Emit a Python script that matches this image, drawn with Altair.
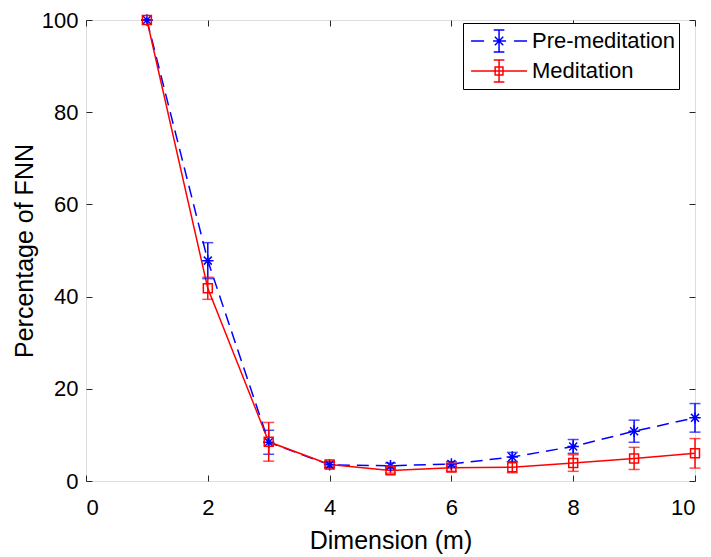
import altair as alt
import pandas as pd

dims = [1, 2, 3, 4, 5, 6, 7, 8, 9, 10]
series_names = ["Pre-meditation", "Meditation"]
pre_vals = [100, 47.8, 8.4, 3.5, 3.3, 3.7, 5.2, 7.5, 10.8, 13.7]
pre_err = [0, 3.9, 2.6, 0.6, 0.6, 0.5, 1.0, 1.5, 2.4, 3.1]
med_vals = [100, 41.8, 8.5, 3.6, 2.3, 2.9, 3.0, 3.9, 4.9, 6.0]
med_err = [0, 2.4, 4.2, 0.6, 0.6, 0.8, 1.2, 1.8, 2.4, 3.2]
x_ticks = [0, 2, 4, 6, 8, 10]
y_ticks = [0, 20, 40, 60, 80, 100]

rows = []
for name, vals, errs in [(series_names[0], pre_vals, pre_err), (series_names[1], med_vals, med_err)]:
    for d, v, e in zip(dims, vals, errs):
        rows.append({"dim": d, "series": name, "value": v, "lo": v - e, "hi": v + e})
df = pd.DataFrame(rows)

BLUE = "#0000ff"
RED = "#ff0000"
FONT = "Liberation Sans"
AX = "#262626"

xs = alt.Scale(domain=[0, 10], nice=False)
ys = alt.Scale(domain=[0, 100], nice=False)

x_main = alt.Axis(orient="bottom", values=x_ticks, tickSize=6, offset=-6, domain=False, grid=False,
                  tickColor=AX, labelColor="#000", labelFont=FONT, labelFontSize=22, labelPadding=16,
                  title="Dimension (m)", titleFont=FONT, titleFontSize=25, titleFontWeight="normal",
                  titleColor="#000", titlePadding=10)
y_main = alt.Axis(orient="left", values=y_ticks, tickSize=6, offset=-6, domain=False, grid=False,
                  tickColor=AX, labelColor="#000", labelFont=FONT, labelFontSize=22, labelPadding=8,
                  title="Percentage of FNN", titleFont=FONT, titleFontSize=25, titleFontWeight="normal",
                  titleColor="#000", titlePadding=4)
x_top = alt.Axis(orient="top", values=x_ticks, tickSize=6, offset=-6, domain=False, grid=False,
                 tickColor=AX, labels=False, title=None)
y_right = alt.Axis(orient="right", values=y_ticks, tickSize=6, offset=-6, domain=False, grid=False,
                   tickColor=AX, labels=False, title=None)

base = alt.Chart(df)


def sel(name):
    return base.transform_filter(alt.datum.series == name)


layers = []
line_pre = sel(series_names[0]).mark_line(color=BLUE, strokeWidth=1.5, strokeDash=[12, 7]).encode(
    x=alt.X("dim:Q", scale=xs, axis=x_main),
    y=alt.Y("value:Q", scale=ys, axis=y_main),
)
line_med = sel(series_names[1]).mark_line(color=RED, strokeWidth=1.5).encode(
    x=alt.X("dim:Q", scale=xs, axis=x_top),
    y=alt.Y("value:Q", scale=ys, axis=y_right),
)
layers += [line_pre, line_med]

for name, col in [(series_names[0], BLUE), (series_names[1], RED)]:
    s = sel(name)
    layers.append(s.mark_rule(color=col, strokeWidth=1.5).encode(
        x=alt.X("dim:Q", scale=xs, axis=None),
        y=alt.Y("lo:Q", scale=ys, axis=None),
        y2="hi:Q"))
    for fld in ["lo", "hi"]:
        layers.append(s.mark_tick(color=col, orient="horizontal", size=11, thickness=1.5).encode(
            x=alt.X("dim:Q", scale=xs, axis=None),
            y=alt.Y(f"{fld}:Q", scale=ys, axis=None)))

ASTER = "M-0.7,-0.7L0.7,0.7M-0.7,0.7L0.7,-0.7M0,-1L0,1M-1,0L1,0"
layers.append(sel(series_names[0]).mark_point(shape=ASTER, size=130, color=BLUE, filled=False,
                                              strokeWidth=1.5, opacity=1).encode(
    x=alt.X("dim:Q", scale=xs, axis=None), y=alt.Y("value:Q", scale=ys, axis=None)))
layers.append(sel(series_names[1]).mark_point(shape="square", size=80, color=RED, filled=False,
                                              strokeWidth=1.5, opacity=1).encode(
    x=alt.X("dim:Q", scale=xs, axis=None), y=alt.Y("value:Q", scale=ys, axis=None)))

# legend symbols (unit = 14px), centred on the error bar at x = 1.29
LEG_PRE = ("M-0.71,0H0.22M0.86,0H1.79M2.36,0H3.29"
           "M1.29,-0.79V0.79M0.91,-0.79H1.67M0.91,0.79H1.67"
           "M0.99,-0.3L1.59,0.3M0.99,0.3L1.59,-0.3M1.29,-0.4V0.4")
LEG_MED = ("M-0.71,0H3.29"
           "M1.29,-0.79V0.79M0.91,-0.79H1.67M0.91,0.79H1.67"
           "M1.01,-0.28H1.57V0.28H1.01Z")
leg = alt.Legend(title=None, orient="none", legendX=377, legendY=3, strokeColor="#000", fillColor="#fff",
                 padding=3, labelFont=FONT, labelFontSize=22, labelColor="#000", symbolSize=784,
                 symbolStrokeWidth=1.5, labelOffset=36, rowPadding=0)
layers.append(base.transform_filter("false").mark_point(filled=False, strokeWidth=1.5, opacity=1).encode(
    x=alt.X("dim:Q", scale=xs, axis=None),
    y=alt.Y("value:Q", scale=ys, axis=None),
    color=alt.Color("series:N", scale=alt.Scale(domain=series_names, range=[BLUE, RED]), legend=leg),
    shape=alt.Shape("series:N", scale=alt.Scale(domain=series_names, range=[LEG_PRE, LEG_MED]), legend=leg),
))

chart = alt.layer(*layers).resolve_axis(x="independent", y="independent").properties(
    width=609, height=461,
    autosize=alt.AutoSizeParams(type="none"),
    padding={"left": 78, "top": 12, "right": 8, "bottom": 75},
).configure_view(stroke=AX, strokeWidth=1).configure(background="#ffffff")

chart.save("out.html", embed_options={"renderer": "svg", "actions": False})
